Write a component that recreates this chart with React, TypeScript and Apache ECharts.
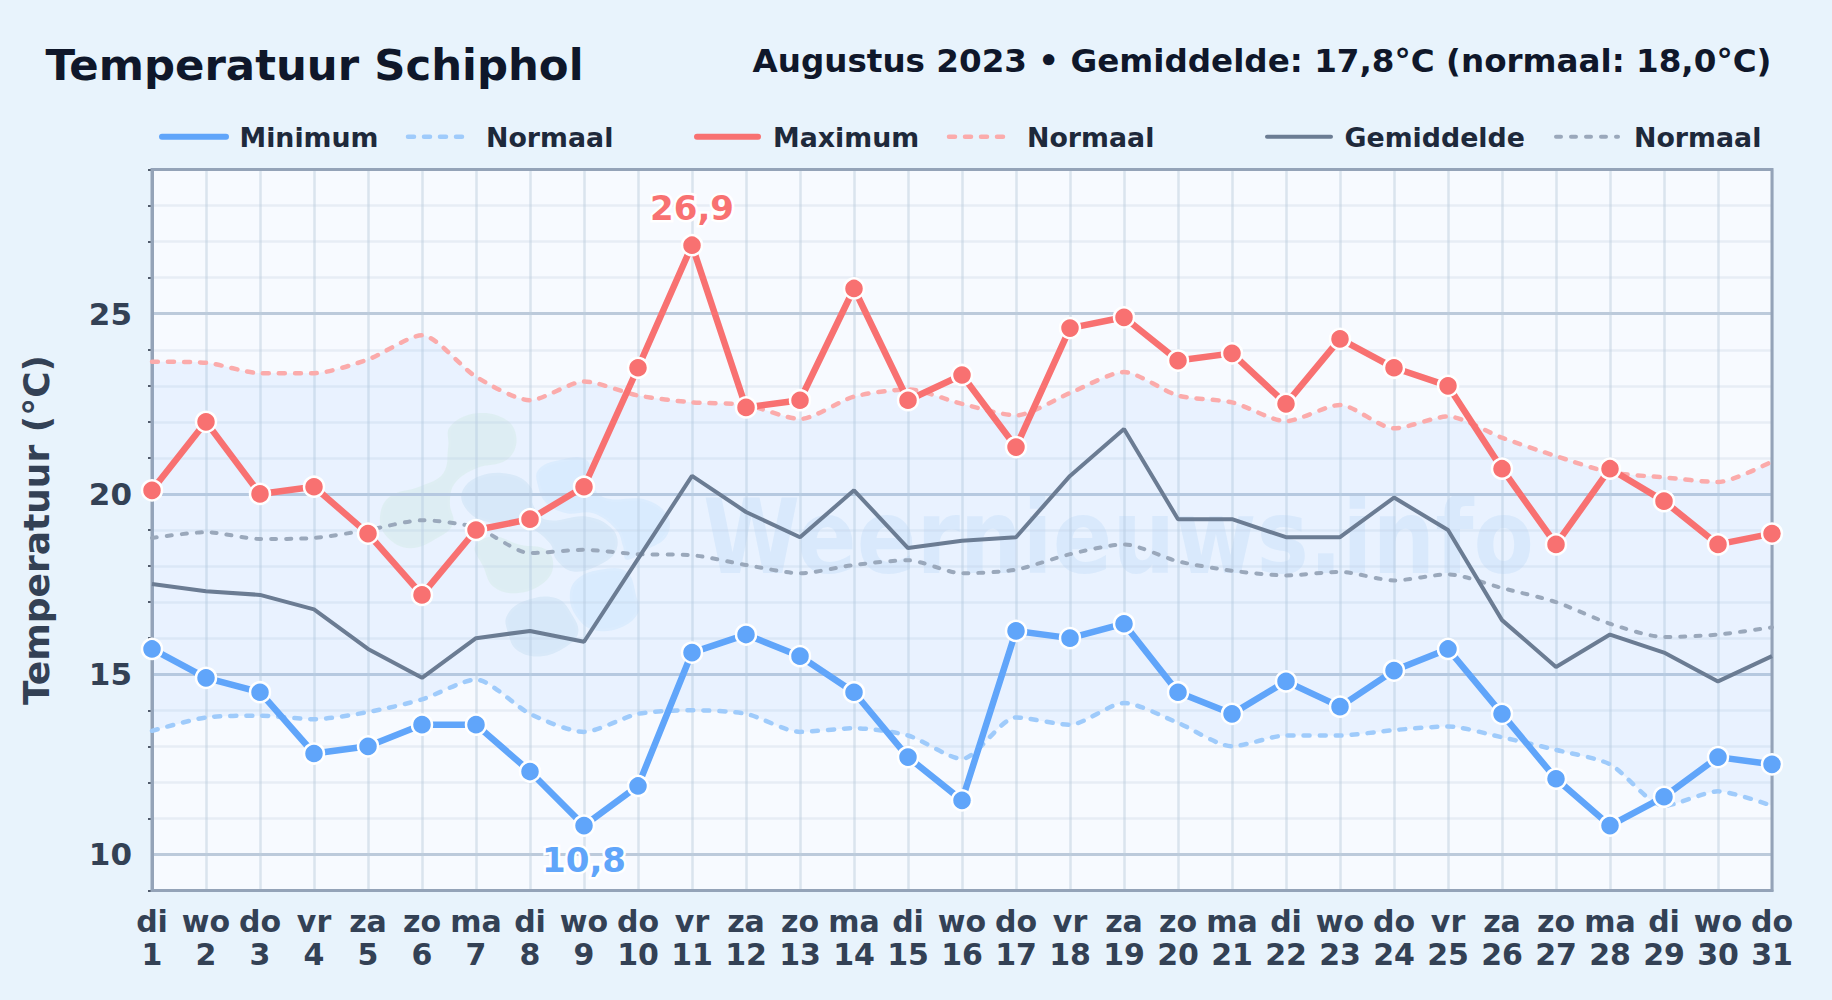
import React, { useEffect, useRef } from "react";
import * as echarts from "echarts";

const weekdays = ["di","wo","do","vr","za","zo","ma","di","wo","do","vr","za","zo","ma","di","wo","do","vr","za","zo","ma","di","wo","do","vr","za","zo","ma","di","wo","do"];
const days = Array.from({ length: 31 }, (_, i) => String(i + 1));
const categories = weekdays.map((w, i) => `${w}\n${days[i]}`);

const minimum = [15.7,14.9,14.5,12.8,13.0,13.6,13.6,12.3,10.8,11.9,15.6,16.1,15.5,14.5,12.7,11.5,16.2,16.0,16.4,14.5,13.9,14.8,14.1,15.1,15.7,13.9,12.1,10.8,11.6,12.7,12.5];
const maximum = [20.1,22.0,20.0,20.2,18.9,17.2,19.0,19.3,20.2,23.5,26.9,22.4,22.6,25.7,22.6,23.3,21.3,24.6,24.9,23.7,23.9,22.5,24.3,23.5,23.0,20.7,18.6,20.7,19.8,18.6,18.9];
const gemiddelde = [17.5,17.3,17.2,16.8,15.7,14.9,16.0,16.2,15.9,18.2,20.5,19.5,18.8,20.1,18.5,18.7,18.8,20.5,21.8,19.3,19.3,18.8,18.8,19.9,19.0,16.5,15.2,16.1,15.6,14.8,15.5];
const normaalMin = [13.43,13.8,13.85,13.75,13.95,14.3,14.85,13.9,13.4,13.9,14.0,13.9,13.4,13.5,13.3,12.65,13.8,13.6,14.2,13.65,13.0,13.3,13.3,13.45,13.55,13.25,12.9,12.5,11.35,11.75,11.35];
const normaalMax = [23.67,23.64,23.35,23.35,23.73,24.4,23.25,22.6,23.12,22.73,22.54,22.47,22.08,22.7,22.9,22.5,22.18,22.8,23.38,22.73,22.54,22.02,22.47,21.82,22.15,21.56,21.05,20.6,20.46,20.33,20.9];
const normaalGem = [18.78,18.94,18.75,18.78,19.0,19.27,19.07,18.36,18.45,18.33,18.3,18.03,17.8,18.03,18.16,17.8,17.9,18.33,18.6,18.13,17.87,17.74,17.84,17.6,17.77,17.39,17.0,16.4,16.03,16.1,16.3];
const bandDiff = normaalMax.map((v, i) => +(v - normaalMin[i]).toFixed(2));

const majorTicks = [10, 15, 20, 25];
const minorTicks = [9,11,12,13,14,16,17,18,19,21,22,23,24,26,27,28,29];

const FONT = '"DejaVu Sans"';
const fmt = (v: number) => v.toFixed(1).replace(".", ",");

const BLUE = "#60a5fa", BLUE_N = "#9fcbfb", RED = "#f87171", RED_N = "#fbabab", SLATE = "#6b7c93", SLATE_N = "#9aa8bb";

const GRID = { left: 152, top: 169.5, width: 1620, height: 721 };

const blobs: { c: string; p: number[][] }[] = [
  { c: "rgba(187,222,190,0.22)", p: [[270,110],[350,70],[440,90],[470,150],[440,210],[350,235],[285,280],[270,340],[280,400],[240,440],[150,475],[80,440],[60,380],[90,320],[180,290],[250,250],[265,170]] },
  { c: "rgba(187,222,190,0.22)", p: [[345,470],[400,440],[480,465],[560,480],[580,530],[550,580],[470,610],[400,590],[370,530]] },
  { c: "rgba(147,190,225,0.2)", p: [[305,310],[360,258],[460,255],[515,295],[520,345],[560,390],[680,380],[760,420],[770,480],[720,525],[640,545],[590,510],[570,460],[500,410],[400,400],[330,370]] },
  { c: "rgba(147,190,225,0.2)", p: [[440,680],[490,635],[590,625],[640,680],[655,730],[620,770],[540,800],[470,780],[445,730]] },
  { c: "rgba(147,205,250,0.18)", p: [[535,240],[600,210],[680,210],[700,290],[740,325],[860,330],[925,380],[920,440],[860,480],[800,510],[790,470],[770,420],[700,370],[620,370],[560,340],[535,290]] },
  { c: "rgba(147,205,250,0.18)", p: [[630,620],[650,570],[720,540],[800,545],[830,620],[835,670],[780,715],[700,720],[650,680]] },
];

const legendItems = [
  { x1: 162, x2: 226, w: 6, color: BLUE, dash: null, tx: 239.5, t: "Minimum" },
  { x1: 408, x2: 464, w: 4.5, color: BLUE_N, dash: [6, 10], tx: 486, t: "Normaal" },
  { x1: 697, x2: 758, w: 6, color: RED, dash: null, tx: 773, t: "Maximum" },
  { x1: 949, x2: 1005, w: 4.5, color: RED_N, dash: [6, 10], tx: 1027, t: "Normaal" },
  { x1: 1267, x2: 1331, w: 4, color: SLATE, dash: null, tx: 1344.5, t: "Gemiddelde" },
  { x1: 1556, x2: 1618, w: 4, color: SLATE_N, dash: [5, 10], tx: 1634, t: "Normaal" },
];

function peakData(values: number[], idx: number, position: string, color: string, distance: number) {
  return values.map((v, i) =>
    i === idx
      ? {
          value: v,
          label: {
            show: true,
            position,
            distance,
            formatter: fmt(v),
            fontFamily: FONT,
            fontWeight: "bold",
            fontSize: 34,
            color,
            textBorderColor: "#ffffff",
            textBorderWidth: 5,
          },
        }
      : v
  );
}

function thickLine(name: string, data: any[], color: string) {
  return {
    type: "line", name, data, smooth: false, clip: false, z: 6,
    symbol: "circle", symbolSize: 20,
    lineStyle: { color, width: 6.5 },
    itemStyle: { color, borderColor: "#ffffff", borderWidth: 2.5, opacity: 1 },
  };
}
function dashLine(name: string, data: number[], color: string, width: number, dash: number[]) {
  return {
    type: "line", name, data, smooth: 0.25, symbol: "none", z: 3,
    lineStyle: { color, width, type: dash, cap: "round" },
  };
}

export default function App() {
  const ref = useRef<HTMLDivElement>(null);
  useEffect(() => {
    document.body.style.margin = "0";
    const chart = echarts.init(ref.current!, undefined, { renderer: "svg" });
    chart.setOption({
      animation: false,
      backgroundColor: "#e8f3fc",
      title: [
        { text: "Temperatuur Schiphol", left: 45.5, top: 43, padding: 0, textStyle: { fontFamily: FONT, fontWeight: "bold", fontSize: 43.4, color: "#0f172a" } },
        { text: "Augustus 2023 • Gemiddelde: 17,8°C (normaal: 18,0°C)", right: 60.5, top: 44, padding: 0, textStyle: { fontFamily: FONT, fontWeight: "bold", fontSize: 32.6, color: "#0f172a" } },
      ],
      grid: {
        ...GRID,
        show: true, backgroundColor: "#f7faff", borderWidth: 0,
      },
      xAxis: {
        type: "category", boundaryGap: false, data: categories,
        axisLine: { lineStyle: { color: "#94a3b8", width: 3 } },
        axisTick: { show: false },
        axisLabel: { interval: 0, margin: 14, fontFamily: FONT, fontWeight: "bold", fontSize: 30, lineHeight: 33.5, color: "#334155", hideOverlap: false },
        splitLine: { show: true, interval: 0, lineStyle: { color: "rgba(190,205,222,0.5)", width: 2.5 } },
      },
      yAxis: [
        {
          type: "value", min: 9, max: 29, interval: 1,
          name: "Temperatuur (°C)", nameLocation: "middle", nameGap: 98, nameRotate: 90,
          nameTextStyle: { fontFamily: FONT, fontWeight: "bold", fontSize: 36, color: "#334155" },
          axisLine: { show: true, lineStyle: { color: "#94a3b8", width: 3 } },
          axisTick: { show: true, length: 4, customValues: minorTicks, lineStyle: { color: "#1e293b", width: 1.5 } },
          axisLabel: { show: true, customValues: majorTicks, margin: 20, fontFamily: FONT, fontWeight: "bold", fontSize: 31, color: "#334155" },
          splitLine: { show: true, lineStyle: { color: "rgba(200,212,226,0.35)", width: 2.5 } },
        },
        {
          type: "value", min: 9, max: 29, interval: 1, position: "left",
          axisLine: { show: false },
          axisTick: { show: false, customValues: majorTicks },
          axisLabel: { show: false },
          splitLine: { show: true, lineStyle: { color: "#bccadb", width: 3 } },
        },
      ],
      graphic: [
        ...blobs.map((b) => ({
          type: "polygon", x: 360, y: 390, scaleX: 1 / 3, scaleY: 1 / 3, z: 0, silent: true,
          shape: { points: b.p, smooth: 0.4 },
          style: { fill: b.c, stroke: "rgba(255,255,255,0.1)", lineWidth: 16 },
        })),
        {
          type: "text", x: 703, y: 589, scaleX: 0.855, z: 0, silent: true,
          style: { text: "Weernieuws.info", fontFamily: FONT, fontWeight: "bold", fontSize: 103, fill: "rgba(125,180,235,0.15)", verticalAlign: "bottom" },
        },
        {
          type: "rect", silent: true, z: 2,
          shape: { x: GRID.left, y: GRID.top, width: GRID.width, height: GRID.height },
          style: { fill: "transparent", stroke: "#94a3b8", lineWidth: 3 },
        },
        ...legendItems.map((l) => ({
          type: "line", silent: true,
          shape: { x1: l.x1, y1: 136.7, x2: l.x2, y2: 136.7 },
          style: { stroke: l.color, lineWidth: l.w, lineCap: "round", lineDash: l.dash || undefined },
        })),
        ...legendItems.map((l) => ({
          type: "text", x: l.tx, y: 137, silent: true,
          style: { text: l.t, fontFamily: FONT, fontWeight: "bold", fontSize: 26.8, fill: "#1e293b", verticalAlign: "middle" },
        })),
      ],
      series: [
        { type: "line", name: "bandBase", data: normaalMin, stack: "band", smooth: 0.25, symbol: "none", z: 1, lineStyle: { opacity: 0 } },
        { type: "line", name: "band", data: bandDiff, stack: "band", smooth: 0.25, symbol: "none", z: 1, lineStyle: { opacity: 0 }, areaStyle: { color: "rgba(147,197,253,0.14)", opacity: 1 } },
        dashLine("Normaal min", normaalMin, BLUE_N, 4.5, [6, 10]),
        dashLine("Normaal max", normaalMax, RED_N, 4.5, [6, 10]),
        dashLine("Normaal gem", normaalGem, SLATE_N, 4, [5, 10]),
        { type: "line", name: "Gemiddelde", data: gemiddelde, symbol: "none", z: 4, lineStyle: { color: SLATE, width: 4 } },
        thickLine("Minimum", peakData(minimum, minimum.indexOf(Math.min(...minimum)), "bottom", BLUE, 6), BLUE),
        thickLine("Maximum", peakData(maximum, maximum.indexOf(Math.max(...maximum)), "top", RED, 9), RED),
      ],
    });
    return () => chart.dispose();
  }, []);
  return <div ref={ref} style={{ width: 1832, height: 1000, position: "absolute", left: 0, top: 0 }} />;
}
